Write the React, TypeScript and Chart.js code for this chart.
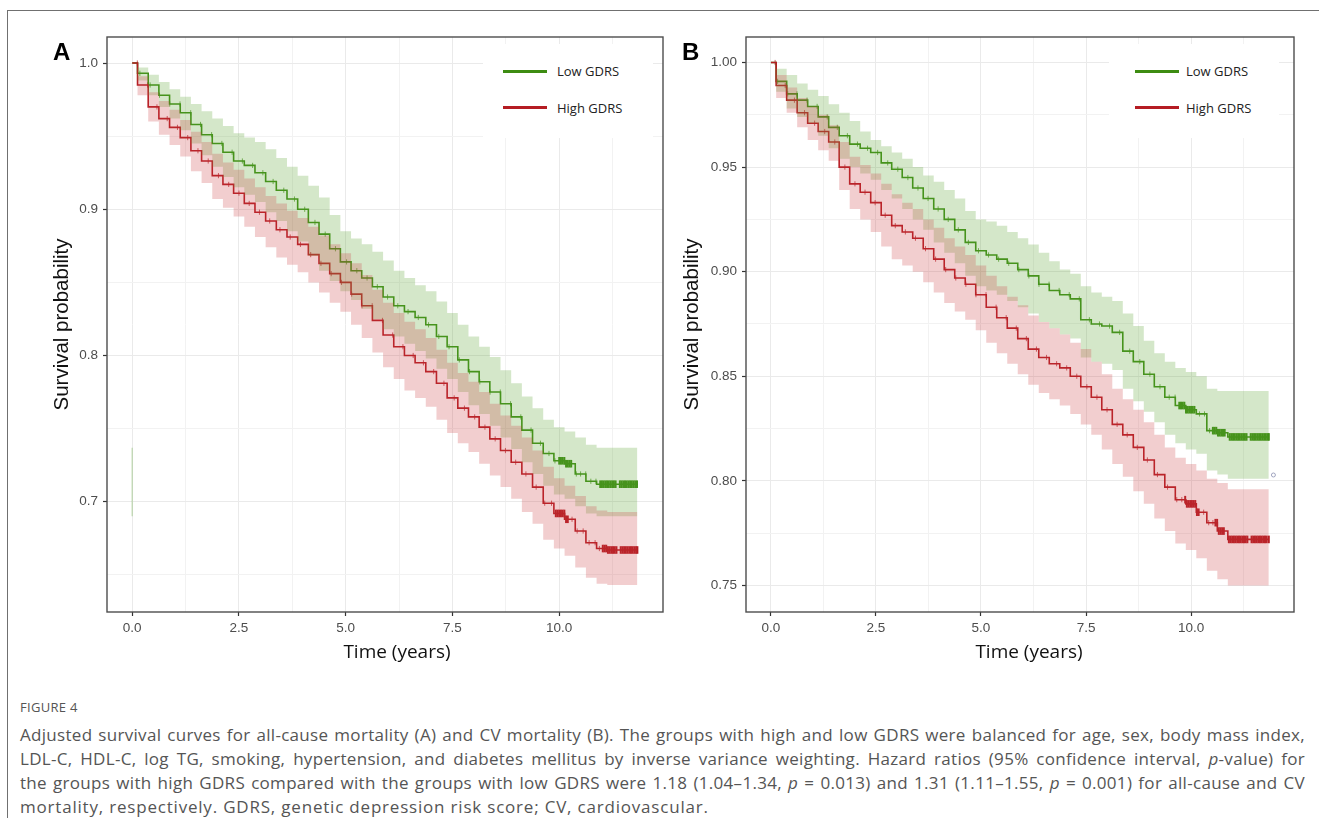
import React, { useEffect, useRef } from 'react';
import { Chart, registerables } from 'chart.js';
Chart.register(...registerables);

// ---------------- DATA ----------------
const timeA = [0, 0.25, 0.5, 0.75, 1, 1.25, 1.5, 1.75, 2, 2.25, 2.5, 2.75, 3, 3.25, 3.5, 3.75, 4, 4.25, 4.5, 4.75, 5, 5.25, 5.5, 5.75, 6, 6.25, 6.5, 6.75, 7, 7.25, 7.5, 7.75, 8, 8.25, 8.5, 8.75, 9, 9.25, 9.5, 9.75, 10, 10.25, 10.5, 10.75, 11, 11.25, 11.5, 11.75, 11.83];
const lowA = [1.000, 0.993, 0.985, 0.978, 0.972, 0.966, 0.958, 0.951, 0.945, 0.939, 0.933, 0.930, 0.925, 0.919, 0.913, 0.907, 0.900, 0.891, 0.883, 0.873, 0.864, 0.858, 0.853, 0.847, 0.840, 0.834, 0.830, 0.826, 0.821, 0.813, 0.806, 0.797, 0.789, 0.782, 0.775, 0.767, 0.758, 0.749, 0.740, 0.733, 0.728, 0.726, 0.719, 0.714, 0.712, 0.712, 0.712, 0.712, 0.712];
const highA = [1.000, 0.985, 0.970, 0.962, 0.956, 0.949, 0.940, 0.933, 0.923, 0.917, 0.911, 0.904, 0.898, 0.892, 0.886, 0.881, 0.876, 0.869, 0.863, 0.856, 0.850, 0.842, 0.834, 0.824, 0.814, 0.806, 0.800, 0.795, 0.789, 0.781, 0.771, 0.764, 0.758, 0.751, 0.743, 0.735, 0.727, 0.719, 0.710, 0.699, 0.692, 0.688, 0.680, 0.672, 0.668, 0.667, 0.667, 0.667, 0.667];
const lowUpperA = [1.000, 0.997, 0.992, 0.987, 0.982, 0.977, 0.972, 0.967, 0.962, 0.957, 0.952, 0.949, 0.946, 0.941, 0.935, 0.929, 0.923, 0.916, 0.908, 0.896, 0.885, 0.880, 0.876, 0.871, 0.865, 0.858, 0.853, 0.848, 0.844, 0.837, 0.829, 0.821, 0.813, 0.806, 0.799, 0.790, 0.781, 0.772, 0.764, 0.756, 0.751, 0.748, 0.744, 0.739, 0.737, 0.737, 0.737, 0.737, 0.737];
const lowLowerA = [1.000, 0.988, 0.978, 0.970, 0.962, 0.954, 0.945, 0.937, 0.929, 0.922, 0.915, 0.910, 0.905, 0.898, 0.892, 0.885, 0.878, 0.868, 0.858, 0.851, 0.844, 0.838, 0.832, 0.825, 0.818, 0.813, 0.808, 0.803, 0.798, 0.791, 0.784, 0.775, 0.766, 0.760, 0.752, 0.744, 0.736, 0.727, 0.719, 0.711, 0.705, 0.702, 0.697, 0.692, 0.690, 0.690, 0.690, 0.690, 0.690];
const highUpperA = [1.000, 0.991, 0.980, 0.974, 0.968, 0.961, 0.953, 0.946, 0.938, 0.932, 0.927, 0.921, 0.915, 0.909, 0.904, 0.899, 0.894, 0.888, 0.882, 0.876, 0.870, 0.863, 0.855, 0.845, 0.836, 0.829, 0.823, 0.818, 0.812, 0.804, 0.795, 0.788, 0.782, 0.775, 0.767, 0.759, 0.752, 0.744, 0.735, 0.724, 0.716, 0.711, 0.704, 0.697, 0.694, 0.693, 0.693, 0.693, 0.693];
const highLowerA = [1.000, 0.978, 0.960, 0.951, 0.944, 0.936, 0.926, 0.918, 0.907, 0.901, 0.895, 0.888, 0.881, 0.874, 0.867, 0.862, 0.857, 0.850, 0.843, 0.836, 0.830, 0.821, 0.812, 0.802, 0.792, 0.784, 0.776, 0.771, 0.765, 0.756, 0.747, 0.740, 0.734, 0.726, 0.718, 0.710, 0.702, 0.693, 0.685, 0.674, 0.668, 0.663, 0.655, 0.648, 0.644, 0.643, 0.643, 0.643, 0.643];
const censorLowA = [0.18, 0.42, 0.64, 0.88, 1.12, 1.37, 1.6, 1.86, 2.1, 2.34, 2.58, 2.82, 3.06, 3.3, 3.55, 3.8, 4.04, 4.28, 4.52, 4.76, 5.02, 5.26, 5.5, 5.74, 5.98, 6.22, 6.46, 6.7, 6.94, 7.18, 7.42, 7.66, 7.9, 8.14, 8.38, 8.62, 8.86, 9.1, 9.34, 9.56, 9.76, 9.9, 10.4, 10.5, 10.62, 10.74, 10.86];
const censorHighA = [0.12, 0.36, 0.58, 0.82, 1.06, 1.3, 1.54, 1.78, 2.02, 2.26, 2.5, 2.74, 2.98, 3.22, 3.46, 3.7, 3.94, 4.18, 4.42, 4.66, 4.9, 5.14, 5.38, 5.62, 5.86, 6.1, 6.34, 6.58, 6.82, 7.06, 7.3, 7.54, 7.78, 8.02, 8.26, 8.5, 8.74, 8.98, 9.22, 9.46, 9.66, 9.82, 10.3, 10.42, 10.56, 10.7, 10.84, 10.94];
const blockLowA = [10.0, 10.04, 10.08, 10.12, 10.16, 10.2, 10.24, 10.28, 10.96, 11.0, 11.04, 11.08, 11.12, 11.16, 11.2, 11.24, 11.28, 11.32, 11.42, 11.46, 11.5, 11.54, 11.58, 11.62, 11.66, 11.7, 11.74, 11.78, 11.82];
const blockHighA = [9.92, 9.96, 10.0, 10.04, 10.08, 10.12, 10.16, 10.2, 11.02, 11.06, 11.1, 11.14, 11.18, 11.22, 11.26, 11.3, 11.34, 11.44, 11.48, 11.52, 11.56, 11.6, 11.64, 11.68, 11.72, 11.76, 11.8, 11.83];
const bandTraceA = [{ x: 0, y: 0.737 }, { x: 0, y: 0.69 }];

const timeB = [0, 0.25, 0.5, 0.75, 1, 1.25, 1.5, 1.75, 2, 2.25, 2.5, 2.75, 3, 3.25, 3.5, 3.75, 4, 4.25, 4.5, 4.75, 5, 5.25, 5.5, 5.75, 6, 6.25, 6.5, 6.75, 7, 7.25, 7.5, 7.75, 8, 8.25, 8.5, 8.75, 9, 9.25, 9.5, 9.75, 10, 10.25, 10.5, 10.75, 11, 11.25, 11.5, 11.75, 11.85];
const lowB = [1.000, 0.991, 0.985, 0.982, 0.979, 0.974, 0.969, 0.965, 0.961, 0.959, 0.957, 0.952, 0.949, 0.945, 0.940, 0.935, 0.930, 0.925, 0.920, 0.914, 0.910, 0.908, 0.906, 0.904, 0.901, 0.898, 0.894, 0.891, 0.889, 0.887, 0.877, 0.875, 0.874, 0.871, 0.862, 0.857, 0.851, 0.845, 0.840, 0.836, 0.834, 0.832, 0.824, 0.823, 0.821, 0.821, 0.821, 0.821, 0.821];
const highB = [1.000, 0.989, 0.982, 0.976, 0.971, 0.967, 0.962, 0.950, 0.942, 0.938, 0.933, 0.927, 0.922, 0.919, 0.916, 0.911, 0.906, 0.901, 0.897, 0.894, 0.889, 0.883, 0.878, 0.873, 0.868, 0.863, 0.859, 0.856, 0.854, 0.850, 0.845, 0.840, 0.834, 0.827, 0.822, 0.816, 0.810, 0.803, 0.797, 0.791, 0.789, 0.785, 0.780, 0.776, 0.772, 0.772, 0.772, 0.772, 0.772];
const lowUpperB = [1.000, 0.997, 0.994, 0.990, 0.987, 0.984, 0.980, 0.976, 0.972, 0.967, 0.963, 0.960, 0.957, 0.954, 0.950, 0.946, 0.943, 0.939, 0.935, 0.929, 0.925, 0.924, 0.922, 0.919, 0.916, 0.913, 0.909, 0.905, 0.901, 0.899, 0.893, 0.890, 0.888, 0.886, 0.880, 0.874, 0.867, 0.861, 0.857, 0.854, 0.852, 0.850, 0.844, 0.843, 0.843, 0.843, 0.843, 0.843, 0.843];
const lowLowerB = [1.000, 0.986, 0.978, 0.974, 0.971, 0.965, 0.959, 0.954, 0.950, 0.947, 0.944, 0.939, 0.935, 0.930, 0.925, 0.920, 0.914, 0.909, 0.904, 0.898, 0.893, 0.891, 0.889, 0.886, 0.883, 0.880, 0.876, 0.873, 0.870, 0.868, 0.859, 0.857, 0.856, 0.853, 0.844, 0.838, 0.833, 0.828, 0.822, 0.818, 0.815, 0.813, 0.805, 0.803, 0.801, 0.801, 0.801, 0.801, 0.801];
const highUpperB = [1.000, 0.994, 0.988, 0.983, 0.979, 0.975, 0.970, 0.962, 0.955, 0.951, 0.947, 0.942, 0.937, 0.933, 0.930, 0.925, 0.921, 0.916, 0.912, 0.908, 0.903, 0.898, 0.893, 0.888, 0.884, 0.879, 0.876, 0.873, 0.870, 0.866, 0.863, 0.857, 0.851, 0.844, 0.839, 0.834, 0.828, 0.822, 0.816, 0.811, 0.808, 0.805, 0.801, 0.799, 0.796, 0.796, 0.796, 0.796, 0.796];
const highLowerB = [1.000, 0.983, 0.976, 0.969, 0.963, 0.958, 0.953, 0.939, 0.930, 0.925, 0.919, 0.912, 0.906, 0.903, 0.900, 0.895, 0.890, 0.885, 0.881, 0.877, 0.872, 0.866, 0.861, 0.856, 0.851, 0.846, 0.842, 0.839, 0.836, 0.832, 0.827, 0.822, 0.815, 0.808, 0.802, 0.795, 0.789, 0.782, 0.776, 0.770, 0.767, 0.763, 0.757, 0.753, 0.750, 0.750, 0.750, 0.750, 0.750];
const censorLowB = [0.16, 0.4, 0.62, 0.86, 1.1, 1.34, 1.58, 1.82, 2.06, 2.3, 2.54, 2.78, 3.02, 3.26, 3.5, 3.74, 3.98, 4.22, 4.46, 4.7, 4.94, 5.18, 5.42, 5.66, 5.9, 6.14, 6.38, 6.62, 6.86, 7.1, 7.34, 7.58, 7.82, 8.06, 8.3, 8.54, 8.78, 9.02, 9.26, 9.48, 9.62, 10.2, 10.32, 10.44];
const censorHighB = [0.1, 0.34, 0.56, 0.8, 1.04, 1.28, 1.52, 1.76, 2.0, 2.24, 2.48, 2.72, 2.96, 3.2, 3.44, 3.68, 3.92, 4.16, 4.4, 4.64, 4.88, 5.12, 5.36, 5.6, 5.84, 6.08, 6.32, 6.56, 6.8, 7.04, 7.28, 7.52, 7.76, 8.0, 8.24, 8.48, 8.72, 8.96, 9.2, 9.44, 9.66, 9.78, 10.3, 10.42, 10.52];
const blockLowB = [9.72, 9.76, 9.8, 9.84, 9.88, 9.92, 9.96, 10.0, 10.04, 10.08, 10.52, 10.56, 10.6, 10.64, 10.68, 10.72, 10.76, 10.8, 10.92, 10.96, 11.0, 11.04, 11.08, 11.12, 11.16, 11.2, 11.24, 11.28, 11.32, 11.42, 11.46, 11.5, 11.54, 11.58, 11.62, 11.66, 11.7, 11.74, 11.78, 11.82, 11.85];
const blockHighB = [9.86, 9.9, 9.94, 9.98, 10.02, 10.06, 10.1, 10.14, 10.18, 10.58, 10.62, 10.66, 10.7, 10.74, 10.78, 10.9, 10.94, 10.98, 11.02, 11.06, 11.1, 11.14, 11.18, 11.22, 11.26, 11.3, 11.34, 11.44, 11.48, 11.52, 11.56, 11.6, 11.64, 11.68, 11.72, 11.76, 11.8, 11.85];
const strayPointB = [{ x: 11.96, y: 0.8028 }];

const xMajorTicks = [0, 2.5, 5, 7.5, 10];
const xMajorLabels = ['0.0', '2.5', '5.0', '7.5', '10.0'];
const xMinorTicks = [1.25, 3.75, 6.25, 8.75, 11.25];
const yMajorTicksA = [0.7, 0.8, 0.9, 1.0];
const yMajorLabelsA = ['0.7', '0.8', '0.9', '1.0'];
const yMinorTicksA = [0.65, 0.75, 0.85, 0.95];
const yMajorTicksB = [0.75, 0.8, 0.85, 0.9, 0.95, 1.0];
const yMajorLabelsB = ['0.75', '0.80', '0.85', '0.90', '0.95', '1.00'];
const yMinorTicksB = [0.775, 0.825, 0.875, 0.925, 0.975];

const legendLabels = ['Low GDRS', 'High GDRS'];

// ---------------- STYLE ----------------
const GREEN = '#3D8C12';
const RED = '#B51C23';
const GREEN_BAND = 'rgba(95,165,55,0.27)';
const RED_BAND = 'rgba(205,60,65,0.25)';
const GRID_MAJOR = '#EAEAEA';
const GRID_MINOR = '#F2F2F2';

function stepAt(ts: number[], vs: number[], t: number) {
  // value of a "middle"-stepped curve at time t
  let v = vs[0];
  for (let i = 1; i < ts.length; i++) if ((ts[i - 1] + ts[i]) / 2 <= t + 1e-9) v = vs[i];
  return v;
}
const pts = (ts: number[], vs: number[]) => ts.map((t, i) => ({ x: t, y: vs[i] }));
const marks = (cs: number[], ts: number[], vs: number[]) => cs.map((t) => ({ x: t, y: stepAt(ts, vs, t) }));
const near = (arr: number[], v: number) => arr.findIndex((a) => Math.abs(a - v) < 1e-6);

const panels = [
  {
    key: 'A',
    time: timeA, low: lowA, high: highA, lowUp: lowUpperA, lowLo: lowLowerA, highUp: highUpperA, highLo: highLowerA,
    cLow: censorLowA, cHigh: censorHighA, bLow: blockLowA, bHigh: blockHighA,
    extras: [{ data: bandTraceA, kind: 'trace' }],
    yMajor: yMajorTicksA, yLabels: yMajorLabelsA, yMinor: yMinorTicksA,
    xMin: -0.59, xMax: 12.43, yMin: 0.6246, yMax: 1.0178,
    layout: { left: 40, top: 17, w: 640, h: 663, yW: 67, xH: 68, padTop: 20, padRight: 17, yTitlePad: 10.5, letterX: 53, xTitleX: 397, legendX: 483, lineX: 503, textX: 557 },
  },
  {
    key: 'B',
    time: timeB, low: lowB, high: highB, lowUp: lowUpperB, lowLo: lowLowerB, highUp: highUpperB, highLo: highLowerB,
    cLow: censorLowB, cHigh: censorHighB, bLow: blockLowB, bHigh: blockHighB,
    extras: [{ data: strayPointB, kind: 'stray' }],
    yMajor: yMajorTicksB, yLabels: yMajorLabelsB, yMinor: yMinorTicksB,
    xMin: -0.593, xMax: 12.45, yMin: 0.7373, yMax: 1.0122,
    layout: { left: 680, top: 17, w: 630, h: 663, yW: 66, xH: 68, padTop: 20, padRight: 16, yTitlePad: 0.5, letterX: 682, xTitleX: 1029, legendX: 1109, lineX: 1135, textX: 1186 },
  },
];

const framePlugin = {
  id: 'panelFrame',
  afterDatasetsDraw(chart: any) {
    const { ctx, chartArea } = chart;
    ctx.save();
    ctx.strokeStyle = '#4D4D4D';
    ctx.lineWidth = 1.4;
    ctx.strokeRect(chartArea.left, chartArea.top, chartArea.right - chartArea.left, chartArea.bottom - chartArea.top);
    ctx.restore();
  },
};

function buildConfig(p: any): any {
  const L = p.layout;
  const band = (data: any, color: string, fill: any) => ({
    data, stepped: 'middle', borderWidth: 0, borderColor: 'transparent', pointRadius: 0, fill, backgroundColor: color,
  });
  const line = (data: any, color: string) => ({
    data, stepped: 'middle', borderWidth: 1.6, borderColor: color, pointRadius: 0, fill: false,
  });
  const cens = (data: any, color: string, r: number, w: number) => ({
    data, showLine: false, pointStyle: 'line', rotation: 90, pointRadius: r, pointBorderWidth: w,
    pointBorderColor: color, pointBackgroundColor: color, fill: false,
  });
  const extras = p.extras.map((e: any) =>
    e.kind === 'trace'
      ? { data: e.data, borderColor: 'rgba(95,165,55,0.3)', borderWidth: 1.5, pointRadius: 0, fill: false }
      : { data: e.data, showLine: false, pointStyle: 'circle', pointRadius: 2, pointBorderWidth: 0.8, pointBorderColor: '#8A8FB0', pointBackgroundColor: '#fff' }
  );
  const allX = [...xMajorTicks, ...xMinorTicks].sort((a, b) => a - b);
  const allY = [...p.yMajor, ...p.yMinor].sort((a: number, b: number) => a - b);
  const tickFont = { family: "'Liberation Sans', Arial, sans-serif", size: 13.5 };
  return {
    type: 'line',
    data: {
      datasets: [
        band(pts(p.time, p.highUp), RED_BAND, '+1'),
        band(pts(p.time, p.highLo), 'transparent', false),
        band(pts(p.time, p.lowUp), GREEN_BAND, '+1'),
        band(pts(p.time, p.lowLo), 'transparent', false),
        ...extras,
        line(pts(p.time, p.high), RED),
        line(pts(p.time, p.low), GREEN),
        cens(marks(p.cHigh, p.time, p.high), 'rgba(181,28,35,0.7)', 2.6, 1),
        cens(marks(p.cLow, p.time, p.low), 'rgba(61,140,18,0.7)', 2.6, 1),
        cens(marks(p.bHigh, p.time, p.high), RED, 3.8, 2),
        cens(marks(p.bLow, p.time, p.low), GREEN, 3.8, 2),
      ],
    },
    options: {
      responsive: false,
      animation: false,
      events: [],
      layout: { padding: { top: L.padTop, right: L.padRight, left: 0, bottom: 0 } },
      plugins: { legend: { display: false }, tooltip: { enabled: false }, title: { display: false } },
      scales: {
        x: {
          type: 'linear',
          min: p.xMin,
          max: p.xMax,
          afterBuildTicks: (s: any) => { s.ticks = allX.map((v) => ({ value: v })); },
          afterFit: (s: any) => { s.height = L.xH; },
          border: { display: false },
          grid: {
            color: (c: any) => (near(xMajorTicks, c.tick.value) >= 0 ? GRID_MAJOR : GRID_MINOR),
            lineWidth: 1,
            tickLength: 4,
            tickWidth: 1.2,
            tickColor: (c: any) => (near(xMajorTicks, c.tick.value) >= 0 ? '#333' : 'rgba(0,0,0,0)'),
          },
          ticks: {
            autoSkip: false, maxRotation: 0, minRotation: 0, padding: 4, color: '#4D4D4D', font: tickFont,
            callback: (v: number) => { const i = near(xMajorTicks, v); return i >= 0 ? xMajorLabels[i] : ''; },
          },
        },
        y: {
          type: 'linear',
          min: p.yMin,
          max: p.yMax,
          afterBuildTicks: (s: any) => { s.ticks = allY.map((v: number) => ({ value: v })); },
          afterFit: (s: any) => { s.width = L.yW; },
          border: { display: false },
          grid: {
            color: (c: any) => (near(p.yMajor, c.tick.value) >= 0 ? GRID_MAJOR : GRID_MINOR),
            lineWidth: 1,
            tickLength: 4,
            tickWidth: 1.2,
            tickColor: (c: any) => (near(p.yMajor, c.tick.value) >= 0 ? '#333' : 'rgba(0,0,0,0)'),
          },
          ticks: {
            autoSkip: false, padding: 5, color: '#4D4D4D', font: tickFont,
            callback: (v: number) => { const i = near(p.yMajor, v); return i >= 0 ? p.yLabels[i] : ''; },
          },
          title: {
            display: true,
            text: 'Survival probability',
            color: '#111',
            font: { family: "'Liberation Sans', Arial, sans-serif", size: 20.5 },
            padding: { top: L.yTitlePad, bottom: 0 },
          },
        },
      },
    },
    plugins: [framePlugin],
  };
}

function Panel({ p }: { p: any }) {
  const ref = useRef<HTMLCanvasElement>(null);
  useEffect(() => {
    const chart = new Chart(ref.current as HTMLCanvasElement, buildConfig(p));
    return () => chart.destroy();
  }, [p]);
  const L = p.layout;
  const legendFont = "'Open Sans', 'Noto Sans', sans-serif";
  return (
    <>
      <canvas ref={ref} width={L.w} height={L.h}
        style={{ position: 'absolute', left: L.left, top: L.top, width: L.w, height: L.h }} />
      <div style={{ position: 'absolute', left: L.letterX, top: 40, font: "bold 24px 'Liberation Sans', Arial, sans-serif", lineHeight: '24px', color: '#000' }}>{p.key}</div>
      <div style={{ position: 'absolute', left: L.legendX, top: 44, width: 170, height: 94, background: '#fff' }} />
      {legendLabels.map((lab, i) => (
        <React.Fragment key={lab}>
          <div style={{ position: 'absolute', left: L.lineX, top: 69.5 + i * 36.5, width: 44, height: 3, background: i === 0 ? GREEN : RED }} />
          <div style={{ position: 'absolute', left: L.textX, top: 60 + i * 36.5, height: 22, lineHeight: '22px', fontFamily: legendFont, fontSize: 13, color: '#222', whiteSpace: 'nowrap' }}>{lab}</div>
        </React.Fragment>
      ))}
      <div style={{ position: 'absolute', left: L.xTitleX - 100, top: 639, width: 200, textAlign: 'center', lineHeight: '24px', fontFamily: legendFont, fontSize: 19, color: '#111' }}>Time (years)</div>
    </>
  );
}

const captionFont = "'Open Sans', 'Noto Sans', sans-serif";

export default function App() {
  const lineStyle: React.CSSProperties = {
    position: 'absolute', left: 20, width: 1285, whiteSpace: 'nowrap', lineHeight: '24px',
    fontFamily: captionFont, fontSize: 17, letterSpacing: 0.3, color: '#555', textAlign: 'justify', textAlignLast: 'justify' as any,
  };
  return (
    <div style={{ position: 'absolute', left: 0, top: 0, width: 1319, height: 818, overflow: 'hidden', background: '#fff' }}>
      <div style={{ position: 'absolute', left: 7, top: 10, width: 1319, height: 818, borderTop: '1px solid #707070', borderLeft: '1px solid #707070' }} />
      {panels.map((p) => <Panel key={p.key} p={p} />)}
      <div style={{ position: 'absolute', left: 20, top: 699, lineHeight: '16px', fontFamily: captionFont, fontSize: 13, color: '#555', letterSpacing: 0.3 }}>FIGURE 4</div>
      <div style={{ ...lineStyle, top: 723 }}>Adjusted survival curves for all-cause mortality (A) and CV mortality (B). The groups with high and low GDRS were balanced for age, sex, body mass index,</div>
      <div style={{ ...lineStyle, top: 747 }}>LDL-C, HDL-C, log TG, smoking, hypertension, and diabetes mellitus by inverse variance weighting. Hazard ratios (95% confidence interval, <i>p</i>-value) for</div>
      <div style={{ ...lineStyle, top: 771 }}>the groups with high GDRS compared with the groups with low GDRS were 1.18 (1.04–1.34, <i>p</i> = 0.013) and 1.31 (1.11–1.55, <i>p</i> = 0.001) for all-cause and CV</div>
      <div style={{ ...lineStyle, top: 795, letterSpacing: 0.8, textAlign: 'left', textAlignLast: 'left' as any }}>mortality, respectively. GDRS, genetic depression risk score; CV, cardiovascular.</div>
    </div>
  );
}
